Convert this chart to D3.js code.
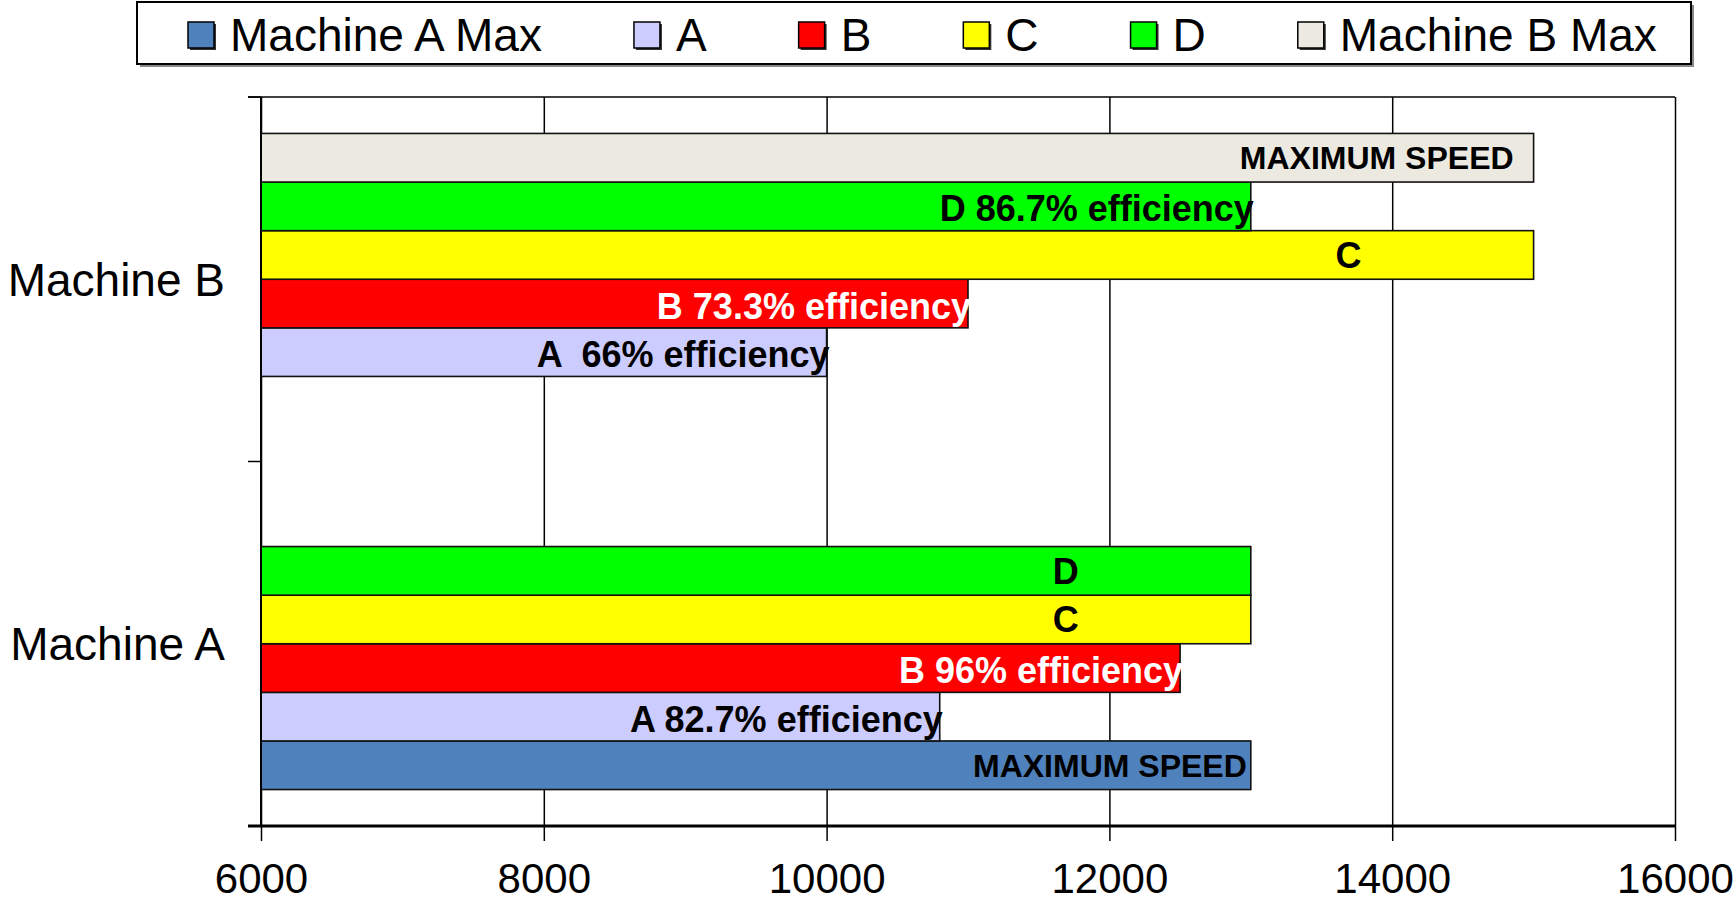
<!DOCTYPE html>
<html>
<head>
<meta charset="utf-8">
<script src="https://cdn.jsdelivr.net/npm/d3@7"></script>
<style>
  body { margin: 0; background: #fff; }
  text { font-family: "Liberation Sans", Arial, sans-serif; }
</style>
</head>
<body>
<div id="chart"></div>
<script>
const categories = ["Machine A", "Machine B"];
const seriesNames = ["Machine A Max", "A", "B", "C", "D", "Machine B Max"];
const machineAValues = [13000, 10800, 12500, 13000, 13000, null];
const machineBValues = [null, 10000, 11000, 15000, 13000, 15000];
const machineALabels = ["MAXIMUM SPEED", "A 82.7% efficiency", "B 96% efficiency", "C", "D", null];
const machineBLabels = [null, "A  66% efficiency", "B 73.3% efficiency", "C", "D 86.7% efficiency", "MAXIMUM SPEED"];
const xTicks = [6000, 8000, 10000, 12000, 14000, 16000];

const colors = ["#4F81BD", "#CCCCFF", "#FF0000", "#FFFF00", "#00FF00", "#ECEAE0"];

const W = 1736, H = 902;
const plot = { left: 261, right: 1675, top: 97, bottom: 826 };

const svg = d3.select("#chart").append("svg")
  .attr("width", W).attr("height", H);

const x = d3.scaleLinear().domain([6000, 16000]).range([plot.left, plot.right]);
const y0 = d3.scaleBand().domain(categories).range([plot.bottom, plot.top]);
const y1 = d3.scaleBand().domain(seriesNames).range([y0.bandwidth(), 0]).paddingOuter(0.75);

// one row per drawn bar
const rows = [];
categories.forEach((cat, ci) => {
  const vals = ci === 0 ? machineAValues : machineBValues;
  const labs = ci === 0 ? machineALabels : machineBLabels;
  seriesNames.forEach((s, si) => {
    if (vals[si] == null) return;
    rows.push({ cat, series: s, si, value: vals[si], label: labs[si] });
  });
});

// grid
svg.append("g")
  .attr("transform", `translate(0,${plot.bottom})`)
  .call(d3.axisBottom(x).tickValues(xTicks).tickSize(-(plot.bottom - plot.top)).tickFormat(""))
  .call(g => g.select(".domain").remove())
  .selectAll("line").attr("stroke", "#000").attr("stroke-width", 1.5);

svg.append("line")
  .attr("x1", plot.left - 13).attr("x2", plot.right)
  .attr("y1", plot.top).attr("y2", plot.top)
  .attr("stroke", "#000").attr("stroke-width", 1.5);

// bars
svg.append("g").selectAll("rect")
  .data(rows)
  .join("rect")
  .attr("x", x(6000))
  .attr("y", d => y0(d.cat) + y1(d.series))
  .attr("width", d => x(d.value) - x(6000))
  .attr("height", y1.bandwidth())
  .attr("fill", d => colors[d.si])
  .attr("stroke", "#111")
  .attr("stroke-width", 1.6);

// bar labels
svg.append("g").selectAll("text")
  .data(rows.filter(d => d.label))
  .join("text")
  .style("white-space", "pre")
  .attr("font-weight", "bold")
  .attr("font-size", d => d.label === "MAXIMUM SPEED" ? 32 : 36)
  .attr("fill", d => d.series === "B" ? "#fff" : "#000")
  .attr("text-anchor", d => d.label.length === 1 ? "middle" : "end")
  .attr("x", d => {
    if (d.label.length === 1) return x(d.value) - 185;
    if (d.label === "MAXIMUM SPEED") return x(d.value) - (d.series === "Machine B Max" ? 20 : 4);
    return x(d.value) + 3;
  })
  .attr("y", d => y0(d.cat) + y1(d.series) + y1.bandwidth() / 2)
  .attr("dy", d => d.label.length > 1 && d.label !== "MAXIMUM SPEED" ? "0.42em" : "0.36em")
  .text(d => d.label);

// x axis
const xAxis = svg.append("g")
  .attr("transform", `translate(0,${plot.bottom})`)
  .call(d3.axisBottom(x).tickValues(xTicks).tickSize(15).tickPadding(22).tickSizeOuter(0).tickFormat(d3.format("d")));
xAxis.select(".domain").attr("stroke", "#000").attr("stroke-width", 3)
  .attr("d", `M${plot.left - 13},0H${plot.right}`);
xAxis.selectAll(".tick line").attr("stroke", "#000").attr("stroke-width", 1.5);
xAxis.selectAll(".tick text").attr("font-size", 42).attr("fill", "#000")
  .style("font-family", '"Liberation Sans", Arial, sans-serif');

// y axis
svg.append("line")
  .attr("x1", plot.left).attr("x2", plot.left)
  .attr("y1", plot.top).attr("y2", plot.bottom)
  .attr("stroke", "#000").attr("stroke-width", 2);

const edges = [plot.top].concat(categories.map(c => y0(c) + y0.bandwidth()));
svg.append("g").selectAll("line")
  .data(edges)
  .join("line")
  .attr("x1", plot.left - 13).attr("x2", plot.left)
  .attr("y1", d => d).attr("y2", d => d)
  .attr("stroke", "#000").attr("stroke-width", 1.5);

svg.append("g").selectAll("text")
  .data(categories)
  .join("text")
  .attr("x", 225)
  .attr("y", d => y0(d) + y0.bandwidth() / 2)
  .attr("dy", "0.36em")
  .attr("text-anchor", "end")
  .attr("font-size", 46)
  .text(d => d);

// legend
const legend = svg.append("g");
legend.append("rect")
  .attr("x", 140).attr("y", 5).attr("width", 1554).attr("height", 62)
  .attr("fill", "#888");
legend.append("rect")
  .attr("x", 137).attr("y", 2).attr("width", 1554).attr("height", 62)
  .attr("fill", "#fff").attr("stroke", "#000").attr("stroke-width", 2);

let lx = 188;
seriesNames.forEach((s, i) => {
  const item = legend.append("g");
  item.append("rect")
    .attr("x", lx + 2).attr("y", 24).attr("width", 26).attr("height", 26)
    .attr("fill", "#333");
  item.append("rect")
    .attr("x", lx).attr("y", 22).attr("width", 26).attr("height", 26)
    .attr("fill", colors[i]).attr("stroke", "#000").attr("stroke-width", 1.5);
  const t = item.append("text")
    .attr("x", lx + 42).attr("y", 34).attr("dy", "0.36em")
    .attr("font-size", 46)
    .text(s);
  lx = lx + 42 + t.node().getComputedTextLength() + 92;
});
</script>
</body>
</html>
